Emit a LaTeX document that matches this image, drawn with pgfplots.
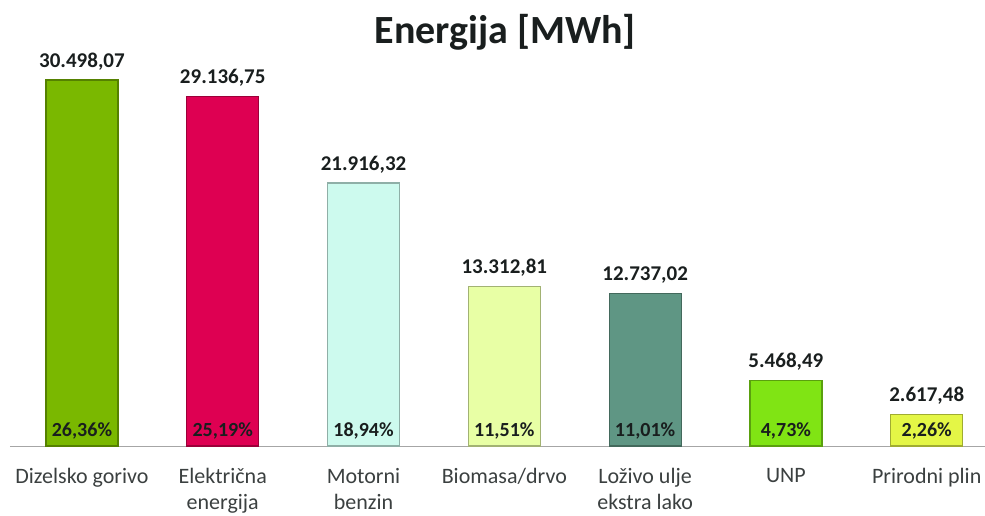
\documentclass[border=0pt]{standalone}
\usepackage{pgfplots}
\pgfplotsset{compat=1.18}
\usepackage{fontspec}
\setmainfont{Carlito}
\definecolor{c1}{RGB}{122,184,0}
\definecolor{c2}{RGB}{222,0,82}
\definecolor{c3}{RGB}{205,250,238}
\definecolor{c4}{RGB}{232,255,165}
\definecolor{c5}{RGB}{95,150,132}
\definecolor{c6}{RGB}{128,228,20}
\definecolor{c7}{RGB}{228,246,70}
\definecolor{txt}{RGB}{25,30,30}
\pgfplotsset{
  mybar/.style={ybar, bar shift=0pt, bar width=72pt, fill=#1, draw=#1!70!black, line width=1.2pt,
    nodes near coords, point meta=explicit symbolic,
    every node near coord/.append style={anchor=base, yshift=13pt, text=txt, font=\bfseries\fontsize{21}{25}\selectfont}},
}
\begin{document}
\begin{tikzpicture}
\useasboundingbox (0,0) rectangle (985pt,516pt);
\begin{axis}[
  at={(10pt,70pt)}, anchor=south west,
  scale only axis, width=975pt, height=386pt,
  xmin=-0.511, xmax=6.414, ymin=0, ymax=32167,
  clip=false,
  axis x line*=bottom, axis y line=none,
  x axis line style={draw=gray!70, line width=0.8pt},
  xtick={0,1,2,3,4,5,6}, major tick length=0pt,
  xticklabels={{Dizelsko gorivo},{Električna\\energija},{Motorni\\benzin},{Biomasa/drvo},{Loživo ulje\\ekstra lako},{UNP},{Prirodni plin}},
  xticklabel style={align=center, font=\fontsize{22}{26}\selectfont, text=txt!85, yshift=-19pt},
  title={Energija [MWh]},
  title style={at={(0.508,1)}, anchor=base, yshift=10pt, font=\bfseries\fontsize{40}{44}\selectfont, text=txt},
]
\addplot[mybar=c1] coordinates {(0,30498.07) [30.498,07]};
\addplot[mybar=c2] coordinates {(1,29136.75) [29.136,75]};
\addplot[mybar=c3] coordinates {(2,21916.32) [21.916,32]};
\addplot[mybar=c4] coordinates {(3,13312.81) [13.312,81]};
\addplot[mybar=c5] coordinates {(4,12737.02) [12.737,02]};
\addplot[mybar=c6] coordinates {(5,5468.49) [5.468,49]};
\addplot[mybar=c7] coordinates {(6,2617.48) [2.617,48]};
\addplot[draw=none, mark=none, nodes near coords, point meta=explicit symbolic,
  every node near coord/.append style={anchor=base, yshift=9pt, text=txt, font=\bfseries\fontsize{20}{24}\selectfont}]
  coordinates {(0,0) [26,36\%] (1,0) [25,19\%] (2,0) [18,94\%] (3,0) [11,51\%] (4,0) [11,01\%] (5,0) [4,73\%] (6,0) [2,26\%]};
\end{axis}
\end{tikzpicture}
\end{document}
